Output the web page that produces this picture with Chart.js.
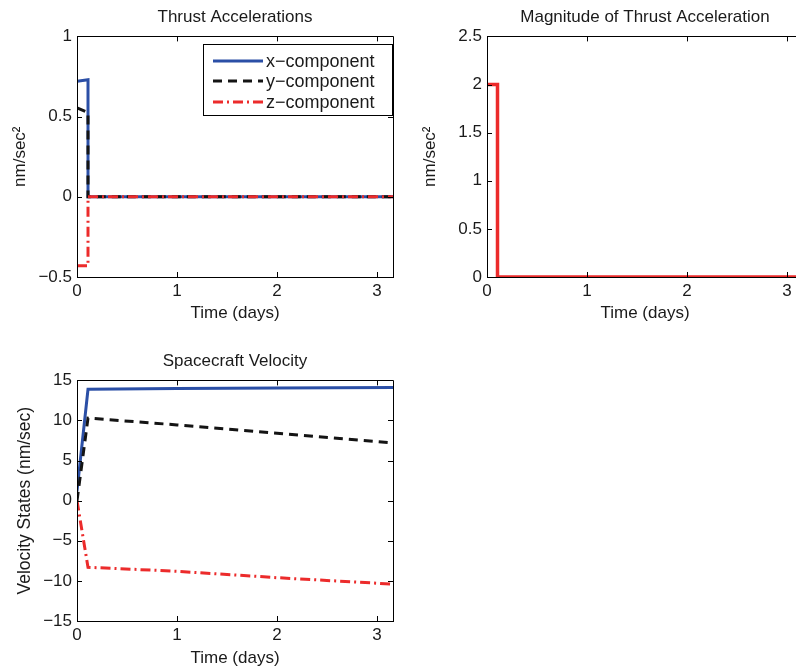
<!DOCTYPE html>
<html>
<head>
<meta charset="utf-8">
<script src="https://cdn.jsdelivr.net/npm/chart.js@4.4.1/dist/chart.umd.min.js"></script>
<style>
  html, body { margin: 0; padding: 0; background: #fff; overflow: hidden; width: 796px; height: 670px; }
  canvas { position: absolute; }
</style>
</head>
<body>
<canvas id="accChart" width="400" height="330" style="left:0;top:0"></canvas>
<canvas id="magChart" width="400" height="330" style="left:410px;top:0"></canvas>
<canvas id="velChart" width="400" height="326" style="left:0;top:344px"></canvas>
<script>
// ---- dados ----
const xTicks = [0, 1, 2, 3];
const accTicks = [-0.5, 0, 0.5, 1];
const magTicks = [0, 0.5, 1, 1.5, 2, 2.5];
const velTicks = [-15, -10, -5, 0, 5, 10, 15];

const accTime = [0, 0.11, 0.11, 3.16];
const accX = [0.72, 0.73, 0, 0];
const accY = [0.555, 0.525, 0, 0];
const accZ = [-0.43, -0.43, 0, 0];

const magTime = [0, 0.105, 0.105, 3.16];
const magValues = [2, 2, 0, 0];

const velTime = [0, 0.11, 1, 2, 3.16];
const velX = [1.2, 13.9, 14.0, 14.05, 14.1];
const velY = [0, 10.3, 9.45, 8.4, 7.2];
const velZ = [0, -8.3, -8.8, -9.6, -10.4];

const seriesLabels = ['x\u2212component', 'y\u2212component', 'z\u2212component'];

// ---- estilos ----
const AZUL = '#2b4fa6';
const PRETO = '#141414';
const VERMELHO = '#ec2b2b';
const FONTE = '"Liberation Sans", Arial, Helvetica, sans-serif';
const COR_TEXTO = '#1a1a1a';

Chart.defaults.font.family = FONTE;
Chart.defaults.color = COR_TEXTO;

const pts = (t, v) => t.map((x, i) => ({ x: x, y: v[i] }));
const fmt = v => String(v).replace('-', '\u2212');

function serie(label, t, v, cor, dash, ordem, largura) {
    return {
        label: label,
        data: pts(t, v),
        borderColor: cor,
        borderWidth: largura || 3,
        borderDash: dash,
        pointRadius: 0,
        tension: 0,
        fill: false,
        order: ordem,
        borderCapStyle: 'butt',
        borderJoinStyle: 'miter'
    };
}

// ticks para dentro + caixa (estilo MATLAB)
const caixaPlugin = {
    id: 'caixa',
    afterDatasetsDraw(chart) {
        const { ctx, chartArea: a, scales } = chart;
        ctx.save();
        ctx.strokeStyle = '#000';
        ctx.lineWidth = 1;
        ctx.beginPath();
        ctx.rect(Math.round(a.left) + 0.5, Math.round(a.top) + 0.5,
                 Math.round(a.right - a.left), Math.round(a.bottom - a.top));
        const L = 5;
        scales.x.ticks.forEach(t => {
            const px = Math.round(scales.x.getPixelForValue(t.value)) + 0.5;
            ctx.moveTo(px, a.bottom); ctx.lineTo(px, a.bottom - L);
            ctx.moveTo(px, a.top); ctx.lineTo(px, a.top + L);
        });
        scales.y.ticks.forEach(t => {
            const py = Math.round(scales.y.getPixelForValue(t.value)) + 0.5;
            ctx.moveTo(a.left, py); ctx.lineTo(a.left + L, py);
            ctx.moveTo(a.right, py); ctx.lineTo(a.right - L, py);
        });
        ctx.stroke();
        ctx.restore();
    }
};

// legenda dentro da área do gráfico
const legendaPlugin = {
    id: 'legendaInterna',
    afterDraw(chart) {
        const { ctx } = chart;
        const x0 = 203, y0 = 44, w = 189, h = 71;
        ctx.save();
        ctx.fillStyle = '#fff';
        ctx.fillRect(x0, y0, w, h);
        ctx.strokeStyle = '#000';
        ctx.lineWidth = 1;
        ctx.strokeRect(x0 + 0.5, y0 + 0.5, w, h);
        const linhas = [61, 81, 102];
        const ds = [chart.data.datasets[0], chart.data.datasets[1], chart.data.datasets[2]];
        ds.forEach((d, i) => {
            ctx.beginPath();
            ctx.strokeStyle = d.borderColor;
            ctx.lineWidth = d.borderWidth;
            ctx.setLineDash(d.borderDash || []);
            ctx.moveTo(213, linhas[i]);
            ctx.lineTo(263, linhas[i]);
            ctx.stroke();
            ctx.setLineDash([]);
            ctx.fillStyle = COR_TEXTO;
            ctx.font = '18px ' + FONTE;
            ctx.textBaseline = 'middle';
            ctx.fillText(d.label, 266, linhas[i] + 1);
        });
        ctx.restore();
    }
};

function opcoes(cfg) {
    return {
        responsive: false,
        animation: false,
        layout: { padding: { left: 0, right: 7, top: 0, bottom: 0 } },
        plugins: {
            legend: { display: false },
            tooltip: { enabled: false },
            title: {
                display: true,
                fullSize: false,
                text: cfg.titulo,
                color: COR_TEXTO,
                font: { size: 17, weight: 'normal', family: FONTE },
                padding: { top: 7, bottom: 9 }
            }
        },
        scales: {
            x: {
                type: 'linear',
                min: 0,
                max: 3.16,
                afterBuildTicks: s => { s.ticks = xTicks.map(v => ({ value: v })); },
                afterFit: s => { s.height = cfg.alturaX; },
                grid: { display: false, drawTicks: false },
                border: { display: true, color: '#000', width: 1 },
                ticks: { padding: 4, font: { size: 17 }, color: COR_TEXTO, callback: fmt, maxRotation: 0 },
                title: {
                    display: true,
                    text: 'Time (days)',
                    font: { size: 17 },
                    color: COR_TEXTO,
                    padding: { top: 0, bottom: cfg.padTituloX }
                }
            },
            y: {
                type: 'linear',
                min: cfg.yMin,
                max: cfg.yMax,
                afterBuildTicks: s => { s.ticks = cfg.yTicks.map(v => ({ value: v })); },
                afterFit: s => { s.width = 77; },
                grid: { display: false, drawTicks: false },
                border: { display: true, color: '#000', width: 1 },
                ticks: { padding: 5, font: { size: 17 }, color: COR_TEXTO, callback: fmt },
                title: {
                    display: true,
                    text: cfg.tituloY,
                    font: { size: cfg.fonteTituloY || 17 },
                    color: COR_TEXTO,
                    padding: { top: cfg.padTituloY, bottom: 0 }
                }
            }
        }
    };
}

function criarGraficos() {
    // Acelerações
    new Chart(document.getElementById('accChart'), {
        type: 'line',
        data: {
            datasets: [
                serie(seriesLabels[0], accTime, accX, AZUL, [], 3),
                serie(seriesLabels[1], accTime, accY, PRETO, [9, 6], 2),
                serie(seriesLabels[2], accTime, accZ, VERMELHO, [10, 4, 2, 4], 1)
            ]
        },
        options: opcoes({
            titulo: 'Thrust Accelerations', tituloY: 'nm/sec\u00b2',
            yMin: -0.5, yMax: 1, yTicks: accTicks,
            alturaX: 53, padTituloX: 6, padTituloY: 10
        }),
        plugins: [caixaPlugin, legendaPlugin]
    });

    // Magnitude
    new Chart(document.getElementById('magChart'), {
        type: 'line',
        data: {
            datasets: [serie('magnitude', magTime, magValues, VERMELHO, [], 1, 3.5)]
        },
        options: opcoes({
            titulo: 'Magnitude of Thrust Acceleration', tituloY: 'nm/sec\u00b2',
            yMin: 0, yMax: 2.5, yTicks: magTicks,
            alturaX: 53, padTituloX: 6, padTituloY: 10
        }),
        plugins: [caixaPlugin]
    });

    // Velocidade
    new Chart(document.getElementById('velChart'), {
        type: 'line',
        data: {
            datasets: [
                serie(seriesLabels[0], velTime, velX, AZUL, [], 3),
                serie(seriesLabels[1], velTime, velY, PRETO, [9, 6], 2),
                serie(seriesLabels[2], velTime, velZ, VERMELHO, [10, 4, 2, 4], 1)
            ]
        },
        options: opcoes({
            titulo: 'Spacecraft Velocity', tituloY: 'Velocity States (nm/sec)',
            yMin: -15, yMax: 15, yTicks: velTicks,
            alturaX: 49, padTituloX: 1, padTituloY: 15, fonteTituloY: 17.5
        }),
        plugins: [caixaPlugin]
    });
}

criarGraficos();
</script>
</body>
</html>
